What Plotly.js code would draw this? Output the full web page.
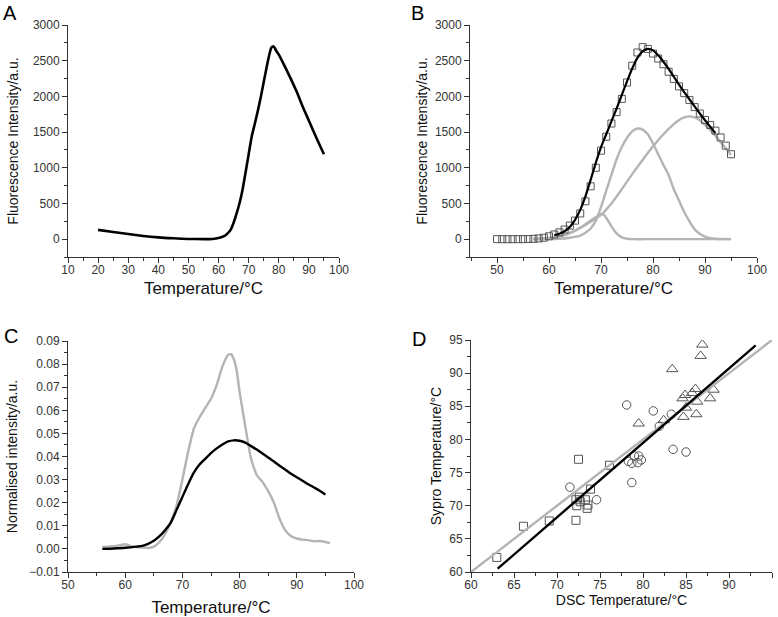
<!DOCTYPE html>
<html>
<head>
<meta charset="utf-8">
<script src="https://cdn.plot.ly/plotly-3.0.1.min.js"></script>
<style>html,body{margin:0;padding:0;background:#fff;}#chart{width:778px;height:617px;}</style>
</head>
<body>
<div id="chart"></div>
<script>
// ---------- Panel A: raw fluorescence melt curve ----------
const aTemp = [20,25,30,35,40,45,50,55,58,60,62,63,64,65,66,67,68,69,70,71,72,73,74,75,76,77,77.5,78,78.5,79,80,82,84,86,88,90,92,94,95];
const aFluor = [130,100,72,45,25,12,3,0,3,15,45,80,130,230,360,510,700,940,1190,1434,1610,1790,1985,2200,2416,2610,2680,2700,2690,2650,2585,2420,2245,2060,1850,1660,1465,1280,1190];

// ---------- Panel B: data (squares), fit (black), components (grey) ----------
const bTemp = [50,51,52,53,54,55,56,57,58,59,60,61,62,63,64,65,66,67,68,69,70,71,72,73,74,75,76,77,78,79,80,81,82,83,84,85,86,87,88,89,90,91,92,93,94,95];
const bData = [0,0,0,0,0,0,2,5,10,20,40,65,95,135,190,260,360,530,740,1000,1240,1435,1620,1780,1965,2195,2430,2615,2690,2665,2600,2530,2450,2345,2245,2140,2045,1950,1850,1760,1670,1600,1520,1425,1310,1190];
const bFitTemp = [61,62,63,64,65,66,67,68,69,70,71,72,73,74,75,76,77,78,79,80,81,82,83,84,85,86,87,88,89,90,91,92];
const bFit = [55,75,110,170,270,410,600,830,1070,1290,1470,1650,1830,2020,2210,2390,2540,2630,2665,2645,2575,2485,2385,2275,2165,2060,1960,1860,1760,1665,1575,1485];
const bSmallTemp = [57,59,61,63,65,66,67,68,69,70,70.5,71,72,73,74,75,76,80,85,90,95];
const bSmall = [3,10,25,55,120,160,210,260,310,350,345,300,180,80,25,5,0,0,0,0,0];
const bMidTemp = [57,60,62,64,66,67,68,69,70,71,72,73,74,75,76,77,78,79,80,81,82,83,84,85,86,87,88,89,90,91,92,93,95];
const bMid = [0,2,5,20,50,90,150,260,450,680,900,1120,1290,1420,1510,1550,1535,1470,1340,1190,1040,900,700,540,380,250,140,75,35,15,6,2,0];
const bWideTemp = [57,59,61,63,65,67,69,70,72,74,76,78,80,82,84,85,86,87,88,89,90,91,92,93,94,95];
const bWide = [3,10,25,60,120,200,290,340,500,700,910,1110,1300,1470,1610,1670,1705,1720,1705,1665,1600,1530,1450,1360,1270,1180];

// ---------- Panel C: normalised intensities ----------
const cGreyTemp = [56,57,58,59,60,61,62,63,64,65,66,67,68,69,70,71,72,73,74,75,76,77,78,78.5,79,79.5,80,81,82,83,84,85,86,87,88,89,90,91,92,93,94,95,95.8];
const cGrey = [0.0008,0.001,0.0012,0.0015,0.002,0.0012,0.0008,0.0006,0.0004,0.001,0.003,0.0065,0.012,0.019,0.03,0.042,0.052,0.057,0.061,0.065,0.071,0.079,0.084,0.0843,0.082,0.077,0.068,0.053,0.039,0.032,0.029,0.025,0.02,0.013,0.008,0.0055,0.0045,0.004,0.0038,0.0033,0.0034,0.003,0.0025];
const cBlackTemp = [56,58,60,62,63,64,65,66,67,68,69,70,71,72,73,74,75,76,77,78,79,80,81,82,83,84,85,86,87,88,89,90,91,92,93,94,95];
const cBlack = [0,0.0002,0.0005,0.001,0.0013,0.0022,0.0035,0.0055,0.0082,0.0115,0.017,0.0225,0.028,0.033,0.0365,0.039,0.0415,0.0435,0.0452,0.0465,0.047,0.0468,0.046,0.0445,0.043,0.0413,0.0396,0.0378,0.036,0.0343,0.0325,0.031,0.0295,0.028,0.0266,0.0252,0.0235];

// ---------- Panel D: DSC vs Sypro temperatures ----------
const dSqX = [63.0,66.1,69.1,72.5,72.2,72.3,72.2,72.6,72.7,73.3,73.6,73.5,73.9,76.1];
const dSqY = [62.2,66.9,67.7,77.0,67.8,70.0,70.9,71.3,70.6,70.9,70.1,69.6,72.5,76.1];
const dCiX = [71.5,74.6,78.1,78.3,78.7,79.0,79.5,79.4,79.8,78.7,81.2,81.9,83.3,83.5,85.0];
const dCiY = [72.8,70.9,85.2,76.7,76.4,77.5,77.5,76.5,76.9,73.5,84.3,82.0,83.8,78.5,78.1];
const dTrX = [86.9,86.7,83.4,79.5,82.4,84.9,84.6,86.1,85.7,88.2,86.3,87.8,85.0,84.7,86.2];
const dTrY = [94.3,92.6,90.6,82.4,82.9,86.7,86.2,87.6,87.0,87.5,85.7,86.2,84.8,83.4,83.8];
const dIdentX = [60,95];
const dIdentY = [60,95];
const dFitX = [63.1,93.1];
const dFitY = [60.5,94.2];

const GREY = '#b4b4b4';
const MK = '#555555';
const FONT = 'Arial, "Liberation Sans", Helvetica, sans-serif';

const traces = [
  {x:aTemp, y:aFluor, xaxis:'x', yaxis:'y', mode:'lines', line:{color:'#000', width:2.6, shape:'spline', smoothing:0.6}},
  {x:bSmallTemp, y:bSmall, xaxis:'x2', yaxis:'y2', mode:'lines', line:{color:GREY, width:2.4, shape:'spline', smoothing:0.6}},
  {x:bMidTemp, y:bMid, xaxis:'x2', yaxis:'y2', mode:'lines', line:{color:GREY, width:2.4, shape:'spline', smoothing:0.6}},
  {x:bWideTemp, y:bWide, xaxis:'x2', yaxis:'y2', mode:'lines', line:{color:GREY, width:2.4, shape:'spline', smoothing:0.6}},
  {x:bTemp, y:bData, xaxis:'x2', yaxis:'y2', mode:'markers', marker:{symbol:'square-open', size:7, color:MK, line:{width:1, color:MK}}},
  {x:bFitTemp, y:bFit, xaxis:'x2', yaxis:'y2', mode:'lines', line:{color:'#000', width:2.2, shape:'spline', smoothing:0.6}},
  {x:cGreyTemp, y:cGrey, xaxis:'x3', yaxis:'y3', mode:'lines', line:{color:GREY, width:2.4, shape:'spline', smoothing:0.5}},
  {x:cBlackTemp, y:cBlack, xaxis:'x3', yaxis:'y3', mode:'lines', line:{color:'#000', width:2.4, shape:'spline', smoothing:0.6}},
  {x:dSqX, y:dSqY, xaxis:'x4', yaxis:'y4', mode:'markers', marker:{symbol:'square-open', size:8, color:MK, line:{width:1, color:MK}}},
  {x:dCiX, y:dCiY, xaxis:'x4', yaxis:'y4', mode:'markers', marker:{symbol:'circle-open', size:8.5, color:MK, line:{width:1, color:MK}}},
  {x:dTrX, y:dTrY, xaxis:'x4', yaxis:'y4', mode:'markers', marker:{symbol:'triangle-up-open', size:10, color:MK, line:{width:1, color:MK}}},
  {x:dIdentX, y:dIdentY, xaxis:'x4', yaxis:'y4', mode:'lines', line:{color:GREY, width:2.4}},
  {x:dFitX, y:dFitY, xaxis:'x4', yaxis:'y4', mode:'lines', line:{color:'#000', width:2.4}}
];

function axis(domain, range, dtick, minor, anchor, title, tsize, standoff, fmt, isX) {
  const a = {
    domain: domain, range: range, anchor: anchor, dtick: dtick, tick0: 0,
    showline: true, linecolor: '#333', linewidth: 1,
    ticks: 'outside', ticklen: 5, tickwidth: 1, tickcolor: '#333',
    showgrid: false, zeroline: false, fixedrange: true,
    tickfont: {family: FONT, size: 12, color: '#333'},
    minor: {dtick: minor, tick0: 0, ticks: 'outside', ticklen: 3, tickwidth: 1, tickcolor: '#333', showgrid: false},
    title: {text: title, font: {family: FONT, size: tsize, color: '#111'}, standoff: standoff},
    automargin: false
  };
  if (isX) a.ticklabelstandoff = -3;
  if (fmt) a.tickformat = fmt;
  return a;
}

const W = 778, H = 617;
const px = (a, b) => [a / W, b / W];
const py = (top, bottom) => [1 - bottom / H, 1 - top / H];

const layout = {
  width: W, height: H,
  margin: {l: 0, r: 0, t: 0, b: 0},
  paper_bgcolor: '#fff', plot_bgcolor: '#fff',
  showlegend: false,
  font: {family: FONT, color: '#222'},
  xaxis:  axis(px(68, 339),  [10, 100],    10, 5,     'y',  'Temperature/°C', 17, 5, null, true),
  yaxis:  axis(py(25, 257),  [-250, 3000], 500, 250,  'x',  'Fluorescence Intensity/a.u.', 14, 10),
  xaxis2: axis(px(470, 757), [44.8, 100],  10, 5,     'y2', 'Temperature/°C', 17, 5, null, true),
  yaxis2: axis(py(25, 257),  [-250, 3000], 500, 250,  'x2', 'Fluorescence Intensity/a.u.', 14, 3),
  xaxis3: axis(px(68, 354),  [50, 100],    10, 5,     'y3', 'Temperature/°C', 17, 11, null, true),
  yaxis3: axis(py(341, 572), [-0.01, 0.09], 0.01, 0.005, 'x3', 'Normalised intensity/a.u.', 14, 8, '.2f'),
  xaxis4: axis(px(471, 772), [60, 95],     5, 2.5,    'y4', 'DSC Temperature/°C', 14, 1, null, true),
  yaxis4: axis(py(340, 572), [60, 95],     5, 2.5,    'x4', 'Sypro Temperature/°C', 14, 4),
  annotations: [
    {text: 'A', x: 1 / W, y: 1},
    {text: 'B', x: 409 / W, y: 1},
    {text: 'C', x: 2 / W, y: 1 - 323 / H},
    {text: 'D', x: 410 / W, y: 1 - 326 / H}
  ].map(a => Object.assign(a, {xref: 'paper', yref: 'paper', xanchor: 'left', yanchor: 'top',
        showarrow: false, font: {family: FONT, size: 20, color: '#000'}}))
};

Plotly.newPlot('chart', traces, layout, {displayModeBar: false, staticPlot: true});
</script>
</body>
</html>
